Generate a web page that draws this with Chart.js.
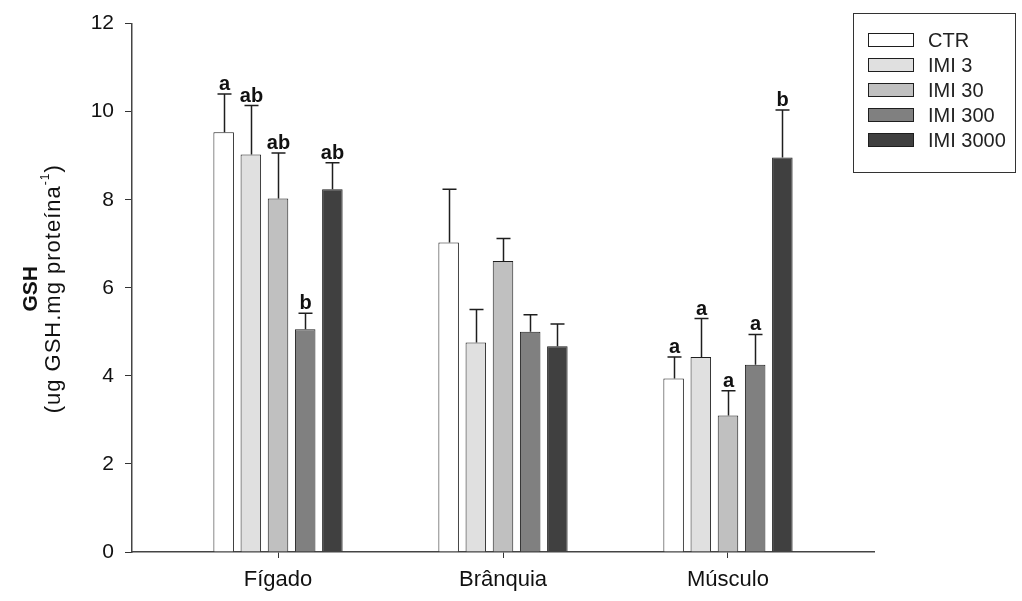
<!DOCTYPE html>
<html>
<head>
<meta charset="utf-8">
<script src="https://cdn.jsdelivr.net/npm/chart.js@4.4.1/dist/chart.umd.min.js"></script>
<style>
  html, body { margin: 0; padding: 0; background: #fff; }
  #wrap { width: 1022px; height: 601px; }
</style>
</head>
<body>
<div id="wrap"><canvas id="c" width="1022" height="601"></canvas></div>
<script>
// ---- data ----
const categories = ['Fígado', 'Brânquia', 'Músculo'];
const seriesNames = ['CTR', 'IMI 3', 'IMI 30', 'IMI 300', 'IMI 3000'];
const ctr      = [9.53, 7.03, 3.94];
const imi3     = [9.03, 4.76, 4.43];
const imi30    = [8.03, 6.61, 3.10];
const imi300   = [5.06, 5.00, 4.25];
const imi3000  = [8.24, 4.67, 8.96];
const ctrErr     = [0.87, 1.21, 0.49];
const imi3Err    = [1.11, 0.75, 0.87];
const imi30Err   = [1.03, 0.51, 0.56];
const imi300Err  = [0.36, 0.39, 0.69];
const imi3000Err = [0.60, 0.51, 1.08];
const ctrLetters     = ['a', '', 'a'];
const imi3Letters    = ['ab', '', 'a'];
const imi30Letters   = ['ab', '', 'a'];
const imi300Letters  = ['b', '', 'a'];
const imi3000Letters = ['ab', '', 'b'];
const yTicks = [0, 2, 4, 6, 8, 10, 12];

const FONT = "'Liberation Sans', Arial, Helvetica, sans-serif";
const fills = ['#ffffff', '#e0e0e0', '#c0c0c0', '#808080', '#404040'];
const values = [ctr, imi3, imi30, imi300, imi3000];
const errs = [ctrErr, imi3Err, imi30Err, imi300Err, imi3000Err];
const letters = [ctrLetters, imi3Letters, imi30Letters, imi300Letters, imi3000Letters];

const datasets = seriesNames.map((name, i) => ({
  label: name,
  data: values[i].map((v, j) => ({ x: j + 1, y: v })),
  err: errs[i],
  letters: letters[i],
  backgroundColor: fills[i],
  borderColor: '#1e1e1e',
  borderWidth: 1,
  borderSkipped: 'bottom',
  categoryPercentage: 0.604,
  barPercentage: 0.755
}));

const errorBarPlugin = {
  id: 'errorBars',
  afterDatasetsDraw(chart) {
    const ctx = chart.ctx;
    const ys = chart.scales.y;
    ctx.save();
    chart.data.datasets.forEach((ds, di) => {
      const meta = chart.getDatasetMeta(di);
      meta.data.forEach((bar, j) => {
        const v = ds.data[j].y;
        const top = ys.getPixelForValue(v + ds.err[j]);
        const base = ys.getPixelForValue(v);
        const x = Math.round(bar.x) + 0.5;
        ctx.strokeStyle = '#1e1e1e';
        ctx.lineWidth = 1.5;
        ctx.beginPath();
        ctx.moveTo(x, base);
        ctx.lineTo(x, top);
        ctx.moveTo(x - 7, top);
        ctx.lineTo(x + 7, top);
        ctx.stroke();
        const t = ds.letters[j];
        if (t) {
          ctx.fillStyle = '#111';
          ctx.font = 'bold 20px ' + FONT;
          ctx.textAlign = 'center';
          ctx.textBaseline = 'alphabetic';
          ctx.fillText(t, x, top - 4);
        }
      });
    });
    ctx.restore();
  }
};

const legendPlugin = {
  id: 'boxLegend',
  afterDraw(chart) {
    const ctx = chart.ctx;
    ctx.save();
    ctx.strokeStyle = '#333';
    ctx.lineWidth = 1;
    ctx.strokeRect(853.5, 13.5, 162, 159);
    chart.data.datasets.forEach((ds, i) => {
      const cy = 40 + i * 25;
      ctx.fillStyle = ds.backgroundColor;
      ctx.fillRect(868, cy - 7, 45, 14);
      ctx.strokeStyle = '#1e1e1e';
      ctx.strokeRect(868.5, cy - 6.5, 45, 13);
      ctx.fillStyle = '#222';
      ctx.font = '20px ' + FONT;
      ctx.textAlign = 'left';
      ctx.textBaseline = 'middle';
      ctx.fillText(ds.label, 928, cy + 1);
    });
    ctx.restore();
  }
};

const yTitlePlugin = {
  id: 'yTitle',
  afterDraw(chart) {
    const ctx = chart.ctx;
    const area = chart.chartArea;
    const cy = (area.top + area.bottom) / 2 + 1;
    ctx.save();
    ctx.fillStyle = '#111';
    ctx.translate(31, cy);
    ctx.rotate(-Math.PI / 2);
    ctx.textBaseline = 'middle';
    ctx.textAlign = 'center';
    ctx.font = 'bold 21px ' + FONT;
    ctx.fillText('GSH', 0, 0);
    // second line with superscript
    const p1 = '(ug GSH.mg proteína', sup = '-1', p2 = ')';
    ctx.letterSpacing = '1px';
    ctx.font = '22px ' + FONT;
    const w1 = ctx.measureText(p1).width;
    const w3 = ctx.measureText(p2).width;
    ctx.font = '12px ' + FONT;
    const w2 = ctx.measureText(sup).width;
    const total = w1 + w2 + w3;
    let x = -total / 2;
    ctx.textAlign = 'left';
    ctx.font = '22px ' + FONT;
    ctx.fillText(p1, x, 23);
    x += w1;
    ctx.font = '12px ' + FONT;
    ctx.fillText(sup, x, 15);
    x += w2;
    ctx.font = '22px ' + FONT;
    ctx.fillText(p2, x, 23);
    ctx.restore();
  }
};

new Chart(document.getElementById('c'), {
  type: 'bar',
  data: { datasets },
  options: {
    responsive: false,
    animation: false,
    events: [],
    layout: { padding: { left: 0, top: 18, right: 148, bottom: 0 } },
    plugins: { legend: { display: false }, tooltip: { enabled: false } },
    scales: {
      x: {
        type: 'linear',
        min: 0.351,
        max: 3.649,
        offset: false,
        afterBuildTicks(scale) { scale.ticks = categories.map((c, i) => ({ value: i + 1 })); },
        afterFit(scale) { scale.height = 49; },
        ticks: {
          callback: (v) => categories[Math.round(v) - 1] || '',
          font: { family: FONT, size: 22 },
          color: '#111',
          padding: 9,
          maxRotation: 0,
          autoSkip: false
        },
        grid: { offset: false, drawOnChartArea: false, drawTicks: true, tickLength: 6, color: '#333', lineWidth: 1 },
        border: { display: true, color: '#444', width: 1.5 }
      },
      y: {
        min: 0,
        max: 12,
        afterBuildTicks(scale) { scale.ticks = yTicks.map(v => ({ value: v })); },
        afterFit(scale) { scale.width = 132; },
        ticks: {
          font: { family: FONT, size: 21 },
          color: '#111',
          padding: 11
        },
        grid: { offset: false, drawOnChartArea: false, drawTicks: true, tickLength: 7, color: '#333', lineWidth: 1 },
        border: { display: true, color: '#444', width: 1.5 }
      }
    }
  },
  plugins: [errorBarPlugin, legendPlugin, yTitlePlugin]
});
</script>
</body>
</html>
